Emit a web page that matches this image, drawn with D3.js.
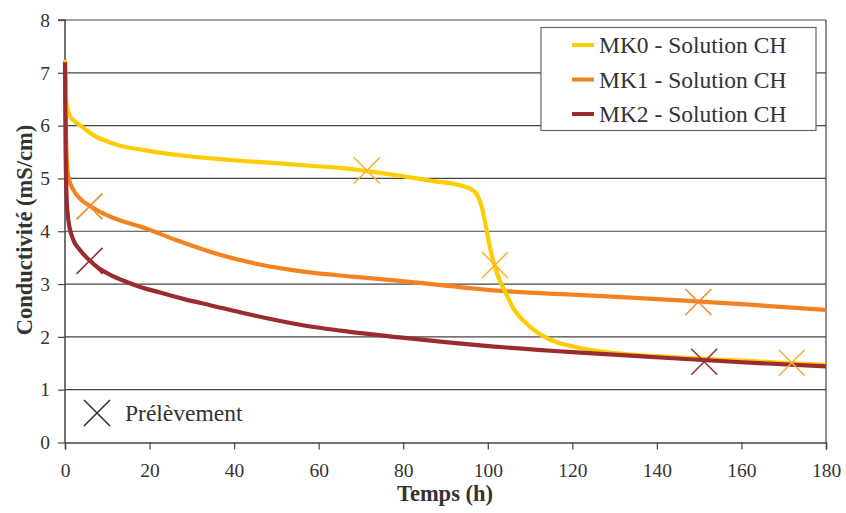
<!DOCTYPE html>
<html><head><meta charset="utf-8">
<script src="https://cdn.jsdelivr.net/npm/d3@7"></script>
</head><body style="margin:0;background:#fff"><svg id="c" width="846" height="513" style="display:block"></svg>
<script>
const xTicks = [0,20,40,60,80,100,120,140,160,180];
const yTicks = [0,1,2,3,4,5,6,7,8];
const seriesNames = ["MK0 - Solution CH","MK1 - Solution CH","MK2 - Solution CH"];
const mk0T = [0,0.3,0.7,1.2,2,3.5,6.7,10.6,14,18.5,24,30.3,36,42.2,50,58,65,71.4,79.2,87.1,93.4,96.6,98.2,99.3,100.5,101.7,102.9,103.7,106,110,113.9,121.8,129.7,145.5,160,171.9,180];
const mk0V = [7.25,6.45,6.28,6.17,6.1,6.01,5.82,5.68,5.6,5.54,5.47,5.41,5.37,5.33,5.29,5.24,5.2,5.14,5.05,4.95,4.87,4.77,4.56,4.2,3.7,3.33,3.05,2.92,2.55,2.19,1.98,1.79,1.70,1.61,1.55,1.50,1.47];
const mk1T = [0,0.2,0.4,0.8,2,3.5,5.9,10.6,14,18.5,26.4,34.3,46.1,56.8,68,79.2,90,100,120,145.5,160,180];
const mk1V = [7.22,6.0,5.4,5.03,4.78,4.62,4.48,4.28,4.18,4.07,3.83,3.61,3.37,3.23,3.14,3.06,2.97,2.89,2.80,2.69,2.62,2.51];
const mk2T = [0,0.15,0.4,0.8,2,3.5,5.9,8,10.6,14.6,18,22.5,28,34.3,45,55.6,67,79.2,90,98.2,120,140.7,160,180];
const mk2V = [7.2,5.5,4.6,4.21,3.83,3.65,3.44,3.30,3.18,3.04,2.94,2.84,2.72,2.60,2.40,2.23,2.10,1.99,1.90,1.84,1.71,1.61,1.52,1.44];
const sampT = [[71.4,101.7,171.9],[5.8,149.8],[5.8,151.2]];
const sampV = [[5.15,3.36,1.51],[4.47,2.66],[3.44,1.53]];
const lineColors = ["#FFCC00","#F58220","#9B2B30"];
const crossColors = ["#F3B431","#F58A2A","#96303A"];
const FONT = '"Liberation Serif"';

const svg = d3.select("#c");
const x = d3.scaleLinear().domain([0,180]).range([65,826]);
const y = d3.scaleLinear().domain([0,8]).range([442.5,20]);

svg.append("g").selectAll("line").data(yTicks.filter(d=>d>0)).join("line")
  .attr("x1",65).attr("x2",826).attr("y1",d=>y(d)).attr("y2",d=>y(d))
  .attr("stroke","#444").attr("stroke-width",1.2);
svg.append("line").attr("x1",826).attr("x2",826).attr("y1",y(8)).attr("y2",y(0)).attr("stroke","#444").attr("stroke-width",1.2);

const xAxis = svg.append("g").attr("transform",`translate(0,${y(0)})`)
  .call(d3.axisBottom(x).tickValues(xTicks).tickSize(7).tickPadding(14).tickFormat(d3.format("d")));
const yAxis = svg.append("g").attr("transform",`translate(${x(0)},0)`)
  .call(d3.axisLeft(y).tickValues(yTicks).tickSize(7).tickPadding(8).tickFormat(d3.format("d")));
[xAxis,yAxis].forEach(a=>{
  a.attr("font-family",null);
  a.select(".domain").attr("stroke","#444").attr("stroke-width",1.5);
  a.selectAll(".tick line").attr("stroke","#444").attr("stroke-width",1.2);
  a.selectAll(".tick text").style("font-family",FONT).style("font-size","19.5px").attr("fill","#333");
});
yAxis.select(".domain").attr("d",`M-7,${y(8)}H0V${y(0)}`);

const line = d3.line().x(d=>x(d[0])).y(d=>y(d[1])).curve(d3.curveMonotoneX);
const data = [mk0T.map((t,i)=>[t,mk0V[i]]), mk1T.map((t,i)=>[t,mk1V[i]]), mk2T.map((t,i)=>[t,mk2V[i]])];
[1,0,2].forEach(k=>{
  svg.append("path").datum(data[k]).attr("d",line).attr("fill","none")
    .attr("stroke",lineColors[k]).attr("stroke-width",4.2).attr("stroke-linejoin","round");
});

const cr = 13;
function cross(g,cx,cy,col){
  g.append("path").attr("d",`M${cx-cr},${cy-cr}L${cx+cr},${cy+cr}M${cx-cr},${cy+cr}L${cx+cr},${cy-cr}`)
   .attr("stroke",col).attr("stroke-width",1.6).attr("fill","none");
}
const cg = svg.append("g");
sampT.forEach((ts,k)=>ts.forEach((t,i)=>cross(cg,x(t),y(sampV[k][i]),crossColors[k])));

cross(svg,97,413,"#333");
svg.append("text").attr("x",125).attr("y",413).attr("dy","0.35em").attr("fill","#333")
  .style("font-family",FONT).style("font-size","23.5px").text("Prélèvement");

const lg = svg.append("g");
lg.append("rect").attr("x",541).attr("y",27.5).attr("width",275).attr("height",103)
  .attr("fill","#fff").attr("stroke","#666").attr("stroke-width",1.2);
seriesNames.forEach((n,i)=>{
  const yy = 45 + i*34.5;
  lg.append("line").attr("x1",572).attr("x2",594).attr("y1",yy).attr("y2",yy).attr("stroke",lineColors[i]).attr("stroke-width",4);
  lg.append("text").attr("x",599).attr("y",yy).attr("dy","0.35em").attr("fill","#333")
    .style("font-family",FONT).style("font-size","23.5px").text(n);
});

svg.append("text").attr("x",445).attr("y",501).attr("text-anchor","middle").attr("fill","#333")
  .style("font-family",FONT).style("font-weight","bold").style("font-size","22.5px").text("Temps (h)");
svg.append("text").attr("transform","translate(32,230) rotate(-90)").attr("text-anchor","middle").attr("fill","#333")
  .style("font-family",FONT).style("font-weight","bold").style("font-size","22.5px").text("Conductivité (mS/cm)");
</script></body></html>
